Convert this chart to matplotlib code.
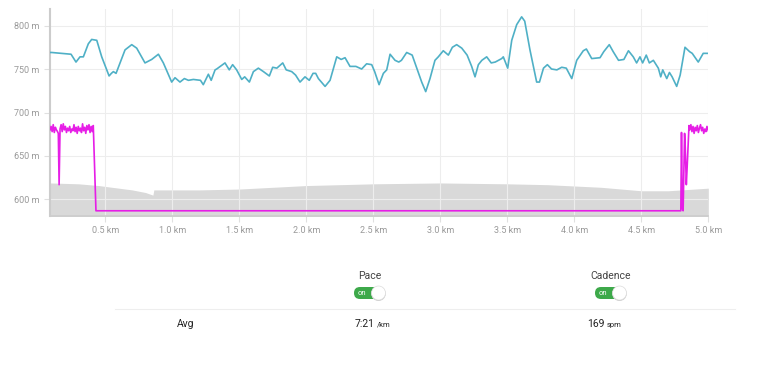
import numpy as np
import matplotlib.pyplot as plt
from matplotlib.patches import FancyBboxPatch, Circle

plt.rcParams['font.family'] = ['Roboto', 'DejaVu Sans']

# elevation line (km, m)
elev_km = [0.087, 0.10, 0.175, 0.244, 0.281, 0.311, 0.336, 0.373, 0.398, 0.436, 0.473, 0.528, 0.545,
           0.56, 0.58, 0.647, 0.697, 0.734, 0.796, 0.846, 0.896, 0.933, 0.995, 1.02, 1.057, 1.09,
           1.12, 1.157, 1.21, 1.231, 1.269, 1.29, 1.319, 1.331, 1.393, 1.425, 1.45, 1.48, 1.518,
           1.54, 1.575, 1.605, 1.642, 1.68, 1.724, 1.749, 1.78, 1.824, 1.85, 1.891, 1.92, 1.953,
           1.99, 2.022, 2.05, 2.07, 2.09, 2.14, 2.177, 2.227, 2.26, 2.289, 2.326, 2.37, 2.413,
           2.45, 2.488, 2.51, 2.543, 2.575, 2.6, 2.625, 2.662, 2.69, 2.71, 2.749, 2.79, 2.824,
           2.861, 2.891, 2.923, 2.96, 2.985, 3.022, 3.06, 3.09, 3.122, 3.16, 3.2, 3.234, 3.259,
           3.284, 3.31, 3.346, 3.38, 3.41, 3.458, 3.47, 3.503, 3.533, 3.57, 3.607, 3.63, 3.669,
           3.719, 3.74, 3.77, 3.799, 3.83, 3.87, 3.906, 3.94, 3.981, 4.018, 4.067, 4.09, 4.13,
           4.192, 4.22, 4.261, 4.29, 4.33, 4.37, 4.404, 4.44, 4.465, 4.49, 4.51, 4.537, 4.56,
           4.59, 4.627, 4.645, 4.66, 4.69, 4.71, 4.73, 4.764, 4.79, 4.826, 4.86, 4.88, 4.925,
           4.962, 5.0]
elev_m = [769, 769, 768, 767, 758, 764, 764, 779, 784, 783, 764, 742, 745,
          747, 745, 772, 778, 774, 757, 761, 767, 757, 735, 740, 735, 739,
          737, 738, 737, 732, 744, 737, 749, 750, 757, 749, 755, 749, 738,
          741, 735, 747, 751, 747, 742, 752, 751, 757, 749, 747, 743, 735,
          741, 737, 745, 745, 739, 730, 737, 764, 761, 763, 753, 753, 750,
          756, 755, 747, 732, 745, 749, 767, 760, 758, 760, 769, 766, 751,
          735, 724, 739, 760, 764, 771, 766, 775, 778, 774, 766, 753, 741,
          755, 760, 764, 757, 758, 762, 764, 751, 783, 801, 810, 805, 772,
          735, 735, 751, 755, 750, 749, 752, 751, 739, 760, 771, 773, 762,
          763, 770, 778, 770, 760, 761, 771, 764, 757, 764, 757, 766, 757,
          760, 751, 741, 749, 739, 746, 741, 730, 743, 775, 770, 768, 758,
          768, 768]

# pace line (km, m on the same scale)
pace_km = [0.087, 0.095, 0.103, 0.111, 0.119, 0.127, 0.135, 0.143, 0.149, 0.155, 0.162, 0.17,
           0.178, 0.186, 0.194, 0.202, 0.21, 0.218, 0.226, 0.234, 0.242, 0.25, 0.258, 0.266,
           0.274, 0.282, 0.29, 0.298, 0.306, 0.314, 0.322, 0.33, 0.338, 0.346, 0.354, 0.362,
           0.37, 0.378, 0.386, 0.394, 0.402, 0.41, 0.43, 4.795, 4.800, 4.806, 4.812, 4.823,
           4.828, 4.836, 4.843, 4.856, 4.862, 4.87, 4.878, 4.886, 4.894, 4.902, 4.91, 4.918,
           4.926, 4.934, 4.942, 4.95, 4.958, 4.966, 4.974, 4.982, 4.99, 5.0]
pace_m = [680, 684, 678, 686, 677, 683, 680, 678, 676, 617, 681, 686,
          678, 687, 680, 684, 677, 682, 679, 684, 677, 681, 679, 686,
          678, 683, 676, 684, 679, 682, 677, 687, 679, 683, 676, 685,
          680, 686, 677, 684, 678, 685, 587, 587, 677, 590, 587, 676,
          660, 617, 640, 685, 680, 686, 678, 684, 676, 683, 679, 685,
          677, 682, 686, 679, 683, 676, 681, 678, 684, 679]

# shaded profile
area_km = [0.087, 0.3, 0.45, 0.55, 0.7, 0.8, 0.855, 0.862, 0.95, 1.2, 1.5, 2.0, 2.5, 3.0,
           3.5, 3.8, 4.2, 4.5, 4.7, 4.9, 5.0]
area_m = [619, 618, 616, 614, 611, 608, 605, 611, 611, 611, 612, 616, 618, 619,
          618, 617, 614, 610, 610, 612, 613]

x_ticks = [0.5, 1.0, 1.5, 2.0, 2.5, 3.0, 3.5, 4.0, 4.5, 5.0]
y_ticks = [600, 650, 700, 750, 800]

fig = plt.figure(figsize=(7.68, 3.69), dpi=100)
ax = fig.add_axes([50/768, 1 - 216/369, (708.3 - 50)/768, (216 - 9)/369])

ax.fill_between(area_km, 560, area_m, color='#d9d9d9', lw=0, zorder=0.3)
ax.plot(elev_km, elev_m, color='#4fb0c6', lw=1.2, zorder=3)
ax.plot(pace_km, pace_m, color='#e61ee6', lw=1.2, zorder=3)

ax.set_xlim(0.087, 5.0)
ax.set_ylim(581, 819)
ax.set_xticks(x_ticks)
ax.set_xticklabels([f'{v:.1f} km' for v in x_ticks])
ax.set_yticks(y_ticks)
ax.set_yticklabels([f'{v} m' for v in y_ticks])
ax.grid(True, color='#ededed', lw=0.8, zorder=0.5)
ax.set_axisbelow(True)
ax.tick_params(colors='#e0e0e0', labelcolor='#999999', labelsize=6.5, length=4, width=0.8)
for s in ['top', 'right']:
    ax.spines[s].set_visible(False)
ax.spines['left'].set_color('#cccccc')
ax.spines['left'].set_linewidth(1.5)
ax.spines['bottom'].set_color('#cccccc')
ax.spines['bottom'].set_linewidth(1.2)

# lower panel in pixel coordinates
ov = fig.add_axes([0, 0, 1, 1])
ov.set_xlim(0, 768)
ov.set_ylim(369, 0)
ov.axis('off')


def toggle(cx, cy):
    pill = FancyBboxPatch((cx - 16, cy - 6), 30, 12, boxstyle='round,pad=0,rounding_size=6',
                          fc='#3da94a', ec='none')
    ov.add_patch(pill)
    ov.text(cx - 8, cy + 0.3, 'on', color='white', fontsize=5.5, ha='center', va='center')
    ov.add_patch(Circle((cx + 8.5, cy + 0.7), 7.3, fc='#cfcfcf', ec='none'))
    ov.add_patch(Circle((cx + 8.5, cy), 7, fc='white', ec='#dddddd', lw=0.5))


ov.text(370, 276, 'Pace', fontsize=7.5, color='#444444', ha='center', va='center')
toggle(370, 293)
ov.text(611, 276, 'Cadence', fontsize=7.5, color='#444444', ha='center', va='center')
toggle(611, 293)
ov.plot([115, 735], [309, 309], color='#eeeeee', lw=0.8)
ov.text(186, 324, 'Avg', fontsize=7.5, color='#222222', ha='center', va='center')
ov.text(375, 324, '7:21', fontsize=7.5, color='#222222', ha='right', va='center')
ov.text(377, 324.5, '/km', fontsize=5.5, color='#222222', ha='left', va='center')
ov.text(605, 324, '169', fontsize=7.5, color='#222222', ha='right', va='center')
ov.text(607, 324.5, 'spm', fontsize=5.5, color='#222222', ha='left', va='center')

fig.savefig('out.png', dpi=100)
